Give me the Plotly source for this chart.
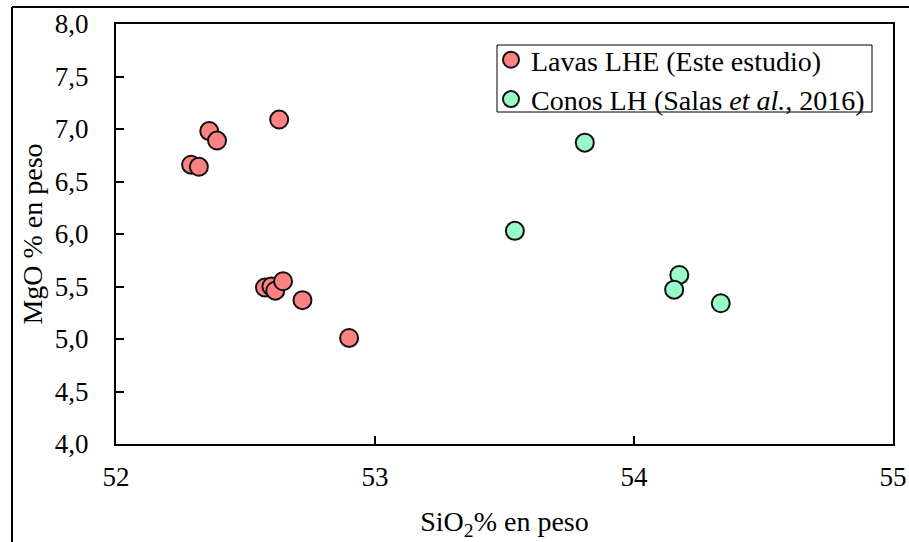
import plotly.graph_objects as go

# Data
lavas_sio2 = [52.29, 52.32, 52.36, 52.39, 52.63, 52.575, 52.60, 52.615, 52.645, 52.72, 52.90]
lavas_mgo = [6.66, 6.64, 6.98, 6.89, 7.09, 5.49, 5.50, 5.46, 5.55, 5.37, 5.01]
conos_sio2 = [53.54, 53.81, 54.175, 54.155, 54.335]
conos_mgo = [6.03, 6.87, 5.61, 5.47, 5.34]

x_ticks = [52, 53, 54, 55]
y_ticks = [4.0, 4.5, 5.0, 5.5, 6.0, 6.5, 7.0, 7.5, 8.0]
y_ticktext = [f"{v:.1f}".replace(".", ",") for v in y_ticks]

FONT = "Liberation Serif"

fig = go.Figure()
fig.add_trace(go.Scatter(
    x=lavas_sio2, y=lavas_mgo, mode="markers", name="Lavas LHE (Este estudio)",
    marker=dict(size=18, color="#FF8282", line=dict(color="#111111", width=2)),
))
fig.add_trace(go.Scatter(
    x=conos_sio2, y=conos_mgo, mode="markers", name="Conos LH (Salas <i>et al.</i>, 2016)",
    marker=dict(size=18, color="#99F9C9", line=dict(color="#111111", width=2)),
))

# body margin removed via post_script, so figure coords = screen coords
W, H = 909, 542
L, T = 116, 24
R = W - 893
B = H - 444
pw, ph = W - L - R, H - T - B

def px(xs):
    return (xs - L) / pw

def py(ys):
    return (H - B - ys) / ph

fig.update_layout(
    width=W, height=H,
    margin=dict(l=L, r=R, t=T, b=B, autoexpand=False),
    paper_bgcolor="white", plot_bgcolor="white",
    font=dict(family=FONT, size=27, color="black"),
    showlegend=True,
    legend=dict(
        x=px(491), y=py(35), xanchor="left", yanchor="top",
        borderwidth=0, bgcolor="rgba(0,0,0,0)",
        font=dict(family=FONT, size=28, color="black"),
        itemsizing="trace", tracegroupgap=0, itemwidth=30,
    ),
    xaxis=dict(
        range=[52, 55], tickvals=x_ticks, ticktext=[str(v) for v in x_ticks],
        showgrid=False, zeroline=False, automargin=False,
        showline=True, linecolor="black", linewidth=2, mirror=True,
        ticks="inside", ticklen=8, tickwidth=1.5, tickcolor="black",
        ticklabelstandoff=8, tickfont=dict(family=FONT, size=27),
        title=dict(text="SiO<sub>2</sub>% en peso", font=dict(family=FONT, size=28), standoff=20),
    ),
    yaxis=dict(
        range=[4, 8], tickvals=y_ticks, ticktext=y_ticktext,
        showgrid=False, zeroline=False, automargin=False,
        showline=True, linecolor="black", linewidth=2, mirror=True,
        ticks="inside", ticklen=8, tickwidth=1.5, tickcolor="black",
        ticklabelstandoff=20, tickfont=dict(family=FONT, size=27),
        title=dict(text="MgO % en peso", font=dict(family=FONT, size=28), standoff=4),
    ),
    shapes=[
        # outer frame (left and top)
        dict(type="line", xref="paper", yref="paper", x0=px(12), x1=px(12), y0=py(7), y1=py(560),
             line=dict(color="black", width=2)),
        dict(type="line", xref="paper", yref="paper", x0=px(12), x1=px(930), y0=py(7), y1=py(7),
             line=dict(color="black", width=2)),
        # legend box
        dict(type="rect", xref="paper", yref="paper", x0=px(497), x1=px(872), y0=py(45), y1=py(112),
             line=dict(color="black", width=1), fillcolor="rgba(0,0,0,0)", layer="below"),
    ],
)

fig.write_html(
    "out.html",
    config={"displayModeBar": False},
    post_script="document.body.style.margin='0';document.body.style.overflow='hidden';",
)
